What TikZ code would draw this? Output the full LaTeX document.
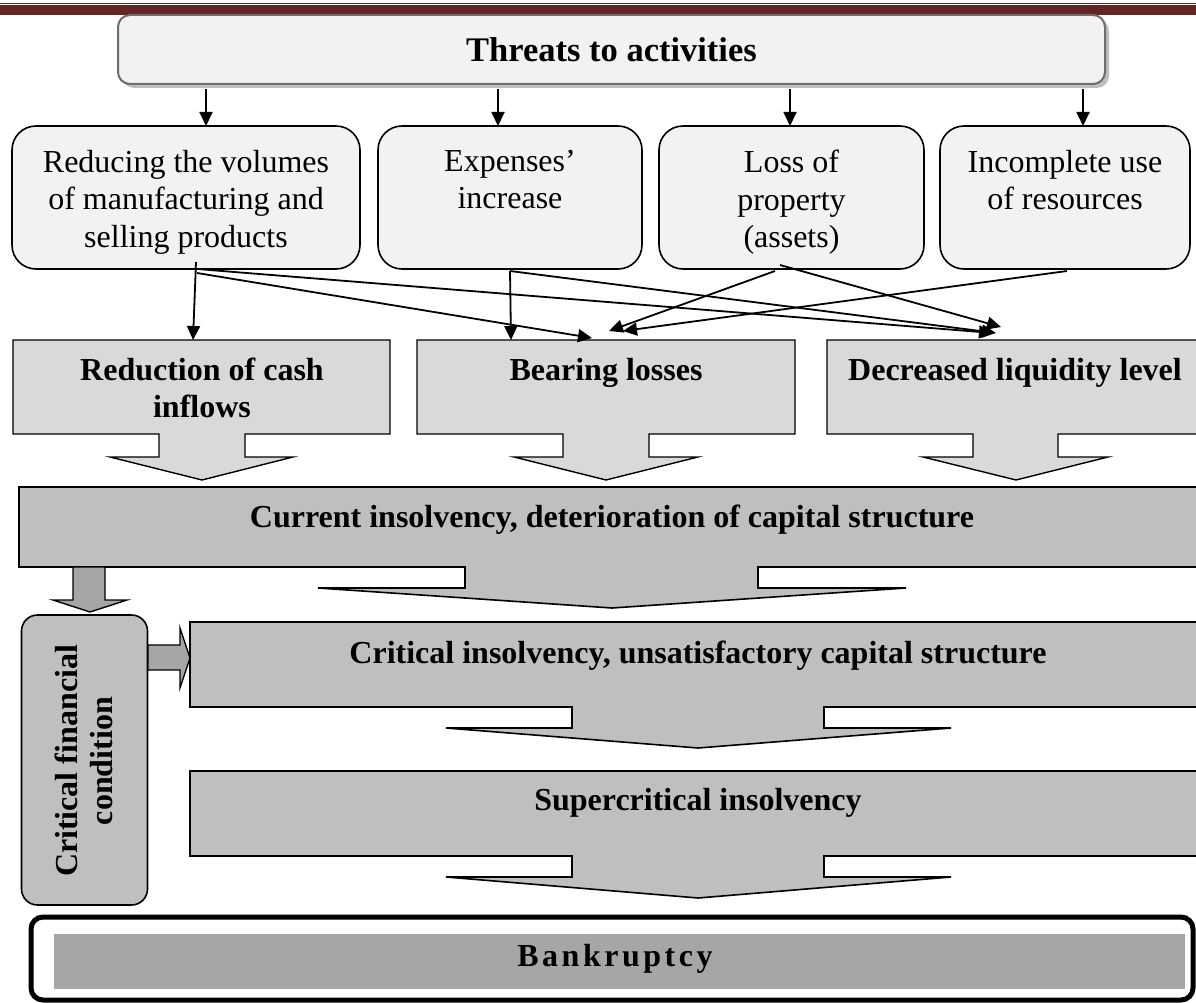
\documentclass[tikz,border=0pt]{standalone}
\usepackage{fontspec}
\setmainfont{Liberation Serif}
\usetikzlibrary{arrows.meta}
\definecolor{hdr}{HTML}{632423}
\definecolor{boxfill}{HTML}{F2F2F2}
\definecolor{topline}{HTML}{6E6E6E}
\definecolor{shadowc}{HTML}{BEBEBE}
\definecolor{midfill}{HTML}{D9D9D9}
\definecolor{bigfill}{HTML}{BFBFBF}
\definecolor{darkfill}{HTML}{A6A6A6}
\tikzset{
 conn/.style={line width=1.8pt, -{Triangle[length=14pt,width=13pt]}},
 softbox/.style={draw, line width=1.6pt, fill=boxfill, rounded corners=24pt, inner sep=0pt},
 lbl/.style={font=\fontsize{32}{37.5}\selectfont, align=center, inner sep=0pt},
 blbl/.style={font=\bfseries\fontsize{32}{37}\selectfont, align=center, inner sep=0pt},
 callmid/.style={draw, fill=midfill, line width=1.4pt},
 callbig/.style={draw, fill=bigfill, line width=1.6pt},
 garrow/.style={draw, fill=darkfill, line width=1.4pt},
}
\begin{document}
\begin{tikzpicture}[x=1pt,y=-1pt]
\useasboundingbox (0,0) rectangle (1196,1003);
% header rule
\fill[hdr] (0,2.7) rectangle (1196,4);
\fill[hdr] (0,5.3) rectangle (1196,15);
% top box
\fill[shadowc, rounded corners=12pt] (122,19) rectangle (1109,88);
\node[draw=topline, line width=2pt, fill=boxfill, rounded corners=12pt, minimum width=987pt, minimum height=69pt, inner sep=0pt] (top) at (611.5,49.5) {};
\node[inner sep=0pt, anchor=base, font=\bfseries\fontsize{34.5}{40}\selectfont] (topt) at (611.5,62) {Threats to activities};
% four boxes
\node[softbox, minimum width=348pt, minimum height=143pt] (b1) at (186,197.5) {};
\node[softbox, minimum width=264pt, minimum height=143pt] (b2) at (510,197.5) {};
\node[softbox, minimum width=265pt, minimum height=143pt] (b3) at (791.5,197.5) {};
\node[softbox, minimum width=250pt, minimum height=143pt] (b4) at (1065,197.5) {};
\node[lbl, anchor=north] (b1t) at (186,150) {Reducing the volumes\\of manufacturing and\\selling products};
\node[lbl, anchor=north] (b2t) at (510,150) {Expenses’\\increase};
\node[lbl, anchor=north] (b3t) at (791.5,150) {Loss of\\property\\(assets)};
\node[lbl, anchor=north] (b4t) at (1065,150) {Incomplete use\\of resources};
% arrows from top
\coordinate (a1) at (206,126);
\coordinate (a2) at (498,126);
\coordinate (a3) at (790,126);
\coordinate (a4) at (1083,126);
\foreach \i in {1,2,3,4} \draw[conn, shorten <=4pt] (top.south -| a\i) -- (a\i);
% middle callouts
\path[callmid] (13,340) -- (390,340) -- (390,434) -- (245,434) -- (245,457) -- (293,457) -- (202,480) -- (110,457) -- (159,457) -- (159,434) -- (13,434) -- cycle;
\path[callmid] (417,340) -- (795,340) -- (795,434) -- (649,434) -- (649,457) -- (698,457) -- (606,480) -- (514,457) -- (563,457) -- (563,434) -- (417,434) -- cycle;
\path[callmid] (827,340) -- (1205,340) -- (1205,434) -- (1058,434) -- (1058,457) -- (1108,457) -- (1016,480) -- (923,457) -- (973,457) -- (973,434) -- (827,434) -- cycle;
\node[blbl, anchor=north] (rc) at (202,358) {Reduction of cash\\inflows};
\node[blbl, anchor=base] (bl) at (606,380) {Bearing losses};
\node[blbl, anchor=base] (dl) at (1015,380) {Decreased liquidity level};
% connectors between rows
\coordinate (s1) at (196,262);
\coordinate (s1a) at (197,269);
\coordinate (s1b) at (197,273);
\coordinate (s2) at (510,271);
\coordinate (s3a) at (775,271);
\coordinate (s3b) at (780,265);
\coordinate (s4) at (1067,271);
\coordinate (rcin) at (193,340);
\coordinate (blin1) at (592,338);
\coordinate (blin2) at (511,340);
\coordinate (blin3) at (609,331);
\coordinate (blin4) at (623,331);
\coordinate (dlin1) at (993,333);
\coordinate (dlin2) at (996,333);
\coordinate (dlin3) at (1001,327);
\draw[conn] (s1) -- (rcin);
\draw[conn] (s1a) -- (dlin1);
\draw[conn] (s1b) -- (blin1);
\draw[conn] (s2) -- (blin2);
\draw[conn] (s2) -- (dlin2);
\draw[conn] (s3a) -- (blin3);
\draw[conn] (s3b) -- (dlin3);
\draw[conn] (s4) -- (blin4);
% big callouts
\path[callbig] (19,487) -- (1205,487) -- (1205,567) -- (758,567) -- (758,588) -- (906,588) -- (612,608) -- (318,588) -- (465,588) -- (465,567) -- (19,567) -- cycle;
\path[callbig] (190,622) -- (1205,622) -- (1205,707) -- (824,707) -- (824,728) -- (951,728) -- (698,748) -- (446,728) -- (572,728) -- (572,707) -- (190,707) -- cycle;
\path[callbig] (190,771) -- (1205,771) -- (1205,856) -- (824,856) -- (824,877) -- (951,877) -- (698,898) -- (446,877) -- (572,877) -- (572,856) -- (190,856) -- cycle;
\node[blbl, anchor=base] (cur) at (612,527) {Current insolvency, deterioration of capital structure};
\node[blbl, anchor=base] (crit) at (698,663) {Critical insolvency, unsatisfactory capital structure};
\node[blbl, anchor=base] (sup) at (698,810) {Supercritical insolvency};
% critical financial condition
\node[draw, line width=1.6pt, fill=bigfill, rounded corners=16pt, minimum width=126pt, minimum height=290pt, inner sep=0pt] (cfbox) at (84.5,760) {};
\node[blbl, rotate=90, font=\bfseries\fontsize{32}{35}\selectfont] (cft) at (84,761) {Critical financial\\condition};
\path[garrow] (73,567) -- (105,567) -- (105,600) -- (127,600) -- (90,612) -- (53,600) -- (73,600) -- cycle;
\path[garrow] (148,645) -- (180,645) -- (180,628) -- (190,658) -- (180,688) -- (180,670) -- (148,670) -- cycle;
% bankruptcy
\draw[line width=5pt, rounded corners=12pt] (31,917) rectangle (1193,1000);
\node[fill=darkfill, minimum width=1131pt, minimum height=55pt, inner sep=0pt] (bk) at (619.5,961.5) {};
\node[inner sep=0pt, anchor=base, font=\bfseries\fontsize{32}{38}\selectfont\addfontfeatures{LetterSpace=11}] (bkt) at (615,966) {Bankruptcy};
\end{tikzpicture}
\end{document}
